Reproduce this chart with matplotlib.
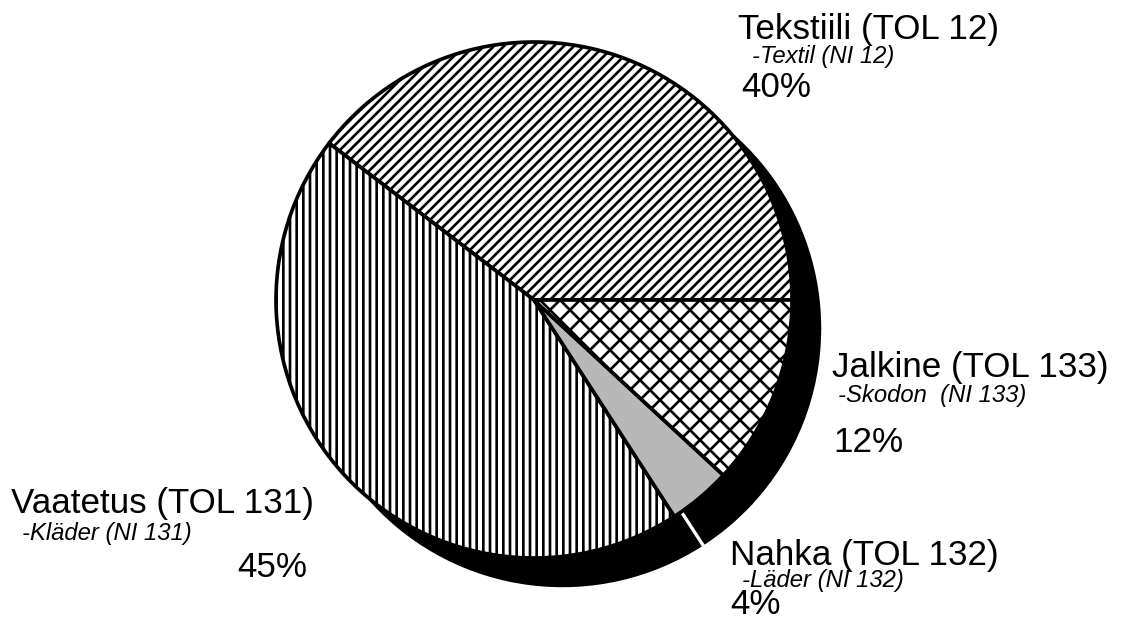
import matplotlib.pyplot as plt
import numpy as np

# shares as printed in the chart (they sum to 101)
labels = ["Tekstiili (TOL 12)", "Vaatetus (TOL 131)", "Nahka (TOL 132)", "Jalkine (TOL 133)"]
sublabels = ["-Textil (NI 12)", "-Kläder (NI 131)", "-Läder (NI 132)", "-Skodon  (NI 133)"]
shares = [40, 45, 4, 12]
hatches = ["////", "|||", None, "xx"]
faces = ["white", "white", "#b8b8b8", "white"]

W, H, DPI = 1124, 625, 120
CX, CY, R = 534, 300, 258      # pie centre / radius in pixels
SHADOW = 0.11                  # shadow offset, in radii

# label anchors (left, baseline) in pixels: title, subtitle, percentage
label_pos = [
    [(738, 39), (752, 63), (741, 97)],
    [(11, 513), (22, 540), (237, 577)],
    [(730, 565), (742, 587), (730, 614)],
    [(832, 377), (838, 402), (833, 452)],
]


def main():
    plt.rcParams["font.family"] = ["Liberation Sans", "DejaVu Sans"]
    plt.rcParams["hatch.linewidth"] = 1.6

    fig = plt.figure(figsize=(W / DPI, H / DPI), dpi=DPI)
    ax = fig.add_axes([0, 0, 1, 1])

    # black drop shadow, one wedge per slice
    sh, _ = ax.pie(shares, startangle=0, counterclock=True, radius=1,
                   center=(SHADOW, -SHADOW), colors=["black"] * len(shares),
                   wedgeprops=dict(edgecolor="black", linewidth=1))
    for w in sh:
        w.set_zorder(1)
    # white seam in the shadow where the leather slice starts
    ang = np.deg2rad(360 * sum(shares[:2]) / sum(shares))
    ax.plot([SHADOW, SHADOW + 1.02 * np.cos(ang)], [-SHADOW, -SHADOW + 1.02 * np.sin(ang)],
            color="white", lw=2, zorder=2, solid_capstyle="butt")

    wedges, _ = ax.pie(shares, startangle=0, counterclock=True, radius=1,
                       center=(0, 0), colors=faces,
                       wedgeprops=dict(edgecolor="black", linewidth=2.2))
    for w, h in zip(wedges, hatches):
        if h:
            w.set_hatch(h)
        w.set_zorder(3)

    ax.set_aspect("auto")
    ax.set_xlim(-CX / R, (W - CX) / R)
    ax.set_ylim(-(H - CY) / R, CY / R)
    ax.axis("off")

    for i in range(len(labels)):
        (x1, y1), (x2, y2), (x3, y3) = label_pos[i]
        ax.text(x1 / W, 1 - y1 / H, labels[i], transform=ax.transAxes,
                fontsize=21, va="baseline", ha="left")
        ax.text(x2 / W, 1 - y2 / H, sublabels[i], transform=ax.transAxes,
                fontsize=14.3, style="italic", va="baseline", ha="left")
        ax.text(x3 / W, 1 - y3 / H, f"{shares[i]}%", transform=ax.transAxes,
                fontsize=21, va="baseline", ha="left")

    fig.savefig("out.png", dpi=DPI)
    plt.close(fig)


if __name__ == "__main__":
    main()
